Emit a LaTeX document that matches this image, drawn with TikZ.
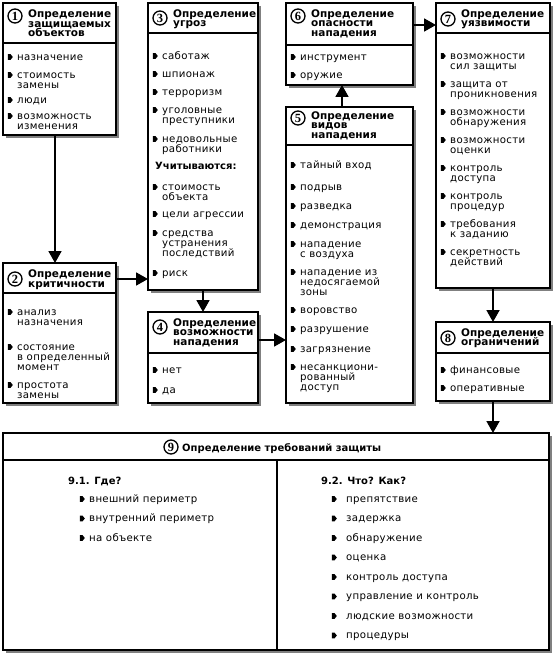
\documentclass[tikz,border=0pt]{standalone}
\usepackage{fontspec}
\setmainfont{DejaVu Sans}
\newfontfamily\bodyf[LetterSpace=3]{DejaVu Sans}
\newfontfamily\headf{DejaVu Sans}
\newfontfamily\numf{Liberation Serif}
\usetikzlibrary{arrows.meta,shadows}
\newcounter{itc}
\newcommand\bulmark[2]{\fill (#1,#2) +(-2.2,-2.8) -- +(0.6,-2.8) -- +(2.8,0) -- +(0.6,2.8) -- +(-2.2,2.8) -- cycle;}
\newcommand\itm[3]{\bulmark{#1}{#2}\stepcounter{itc}\node[txt] (it\arabic{itc}) at (#1+7,#2-5) {\rule{0pt}{8pt}#3};}
\newcommand\itmw[3]{\bulmark{#1}{#2}\stepcounter{itc}\node[txt] (it\arabic{itc}) at (#1+12,#2-5) {\rule{0pt}{8pt}#3};}
\tikzset{
  box/.style={draw, line width=1.6pt, fill=white, anchor=north west, inner sep=0pt, outer sep=0pt,
    drop shadow={shadow xshift=2.6pt, shadow yshift=-2.6pt, fill=black!50, opacity=1}},
  sep/.style={line width=1.3pt},
  arr/.style={line width=1.8pt, -{Triangle[length=12pt,width=13pt]}},
  txt/.style={anchor=north west, inner sep=0pt, align=left, font={\bodyf\fontsize{10.2}{10}\selectfont\lineskiplimit=-5pt}},
  hd/.style={anchor=north west, inner sep=0pt, align=left, font={\headf\bfseries\fontsize{10.5}{9.5}\selectfont\lineskiplimit=-5pt}},
  hdnine/.style={anchor=base west, inner sep=0pt, font={\headf\bfseries\fontsize{10}{10}\selectfont}},
  sub/.style={anchor=north west, inner sep=0pt, font={\headf\bfseries\fontsize{10}{10}\selectfont}},
  num/.style={circle, draw, line width=1.3pt, inner sep=0pt, minimum size=14pt, font={\numf\bfseries\fontsize{12.5}{12.5}\selectfont}},
}
\begin{document}
\begin{tikzpicture}[x=1pt,y=-1pt]
\useasboundingbox (0,0) rectangle (555,655);
% boxes
\node[box, minimum width=113pt, minimum height=132pt] (b1) at (3,3) {};
\node[box, minimum width=113pt, minimum height=140pt] (b2) at (3,263) {};
\node[box, minimum width=110pt, minimum height=287pt] (b3) at (148,3) {};
\node[box, minimum width=110pt, minimum height=91pt] (b4) at (148,312) {};
\node[box, minimum width=127pt, minimum height=296pt] (b5) at (286,107) {};
\node[box, minimum width=127pt, minimum height=82pt] (b6) at (286,3) {};
\node[box, minimum width=114pt, minimum height=285pt] (b7) at (436,3) {};
\node[box, minimum width=114pt, minimum height=79pt] (b8) at (436,322) {};
\node[box, minimum width=546pt, minimum height=217pt] (b9) at (3,433) {};
% header separators
\draw[sep] ([yshift=-40pt]b1.north west) -- ([yshift=-40pt]b1.north east);
\draw[sep] ([yshift=-30pt]b2.north west) -- ([yshift=-30pt]b2.north east);
\draw[sep] ([yshift=-30pt]b3.north west) -- ([yshift=-30pt]b3.north east);
\draw[sep] ([yshift=-41pt]b4.north west) -- ([yshift=-41pt]b4.north east);
\draw[sep] ([yshift=-38pt]b5.north west) -- ([yshift=-38pt]b5.north east);
\draw[sep] ([yshift=-42pt]b6.north west) -- ([yshift=-42pt]b6.north east);
\draw[sep] ([yshift=-30pt]b7.north west) -- ([yshift=-30pt]b7.north east);
\draw[sep] ([yshift=-31pt]b8.north west) -- ([yshift=-31pt]b8.north east);
\draw[sep] ([yshift=-27pt]b9.north west) -- ([yshift=-27pt]b9.north east);
\draw[sep] ([xshift=274pt,yshift=-27pt]b9.north west) -- ([xshift=274pt]b9.south west);
% connectors
\coordinate (a12) at ([xshift=-4.5pt]b1.south);
\draw[arr] (a12) -- (a12 |- b2.north);
\coordinate (a23) at ([yshift=-16pt]b2.north east);
\draw[arr] (a23) -- (a23 -| b3.west);
\draw[arr] (b3.south) -- (b4.north);
\coordinate (a45) at ([yshift=-28pt]b4.north east);
\draw[arr] (a45) -- (a45 -| b5.west);
\coordinate (a56) at ([xshift=-7.5pt]b5.north);
\draw[arr] (a56) -- (a56 |- b6.south);
\coordinate (a67) at ([yshift=-22pt]b6.north east);
\draw[arr] (a67) -- (a67 -| b7.west);
\draw[arr] (b7.south) -- (b8.north);
\draw[arr] (b8.south) -- (b8.south |- b9.north);
% box 1
\node[num] (n1) at (15,16) {1};
\node[hd] (h1) at (28,9.5) {\rule{0pt}{8pt}Определение\\защищаемых\\объектов};
\itm{10}{57}{назначение}
\itm{10}{75}{стоимость\\замены}
\itm{10}{100}{люди}
\itm{10}{116}{возможность\\изменения}
% box 2
\node[num] (n2) at (15,279) {2};
\node[hd] (h2) at (28,269.5) {\rule{0pt}{8pt}Определение\\критичности};
\itm{10}{312}{анализ\\назначения}
\itm{10}{347}{состояние\\в определенный\\момент}
\itm{10}{385}{простота\\замены}
% box 3
\node[num] (n3) at (160,18) {3};
\node[hd] (h3) at (173,9) {\rule{0pt}{8pt}Определение\\угроз};
\itm{155}{56}{саботаж}
\itm{155}{74}{шпионаж}
\itm{155}{92}{терроризм}
\itm{155}{110}{уголовные\\преступники}
\itm{155}{139}{недовольные\\работники}
\node[sub] (u3) at (155,161) {\rule{0pt}{8pt}Учитываются:};
\itm{155}{187}{стоимость\\объекта}
\itm{155}{214}{цели агрессии}
\itm{155}{233}{средства\\устранения\\последствий}
\itm{155}{273}{риск}
% box 4
\node[num] (n4) at (160,327) {4};
\node[hd] (h4) at (173,318) {\rule{0pt}{8pt}Определение\\возможности\\нападения};
\itm{155}{370}{нет}
\itm{155}{390}{да}
% box 5
\node[num] (n5) at (298,118) {5};
\node[hd] (h5) at (311,111) {\rule{0pt}{8pt}Определение\\видов\\нападения};
\itm{293}{165}{тайный вход}
\itm{293}{187}{подрыв}
\itm{293}{206}{разведка}
\itm{293}{225}{демонстрация}
\itm{293}{244}{нападение\\с воздуха}
\itm{293}{272}{нападение из\\недосягаемой\\зоны}
\itm{293}{310}{воровство}
\itm{293}{329}{разрушение}
\itm{293}{349}{загрязнение}
\itm{293}{367}{несанкциони-\\рованный\\доступ}
% box 6
\node[num] (n6) at (298,16) {6};
\node[hd] (h6) at (311,9) {\rule{0pt}{8pt}Определение\\опасности\\нападения};
\itm{293}{57}{инструмент}
\itm{293}{75}{оружие}
% box 7
\node[num] (n7) at (448,19) {7};
\node[hd] (h7) at (461,9) {\rule{0pt}{8pt}Определение\\уязвимости};
\itm{443}{56}{возможности\\сил защиты}
\itm{443}{84}{защита от\\проникновения}
\itm{443}{112}{возможности\\обнаружения}
\itm{443}{140}{возможности\\оценки}
\itm{443}{168}{контроль\\доступа}
\itm{443}{196}{контроль\\процедур}
\itm{443}{224}{требования\\к заданию}
\itm{443}{252}{секретность\\действий}
% box 8
\node[num] (n8) at (448,338) {8};
\node[hd] (h8) at (461,328) {\rule{0pt}{8pt}Определение\\ограничений};
\itm{443}{370}{финансовые}
\itm{443}{388}{оперативные}
% box 9
\node[num] (n9) at (171,447) {9};
\node[hdnine] (h9) at (182,451) {Определение требований защиты};
\node[sub] (s91) at (68,476) {\rule{0pt}{8pt}9.1. Где?};
\node[sub] (s92) at (321,476) {\rule{0pt}{8pt}9.2. Что? Как?};
\itm{82}{499}{внешний периметр}
\itm{82}{518.5}{внутренний периметр}
\itm{82}{538}{на объекте}
\itmw{334}{499}{препятствие}
\itmw{334}{518.5}{задержка}
\itmw{334}{538}{обнаружение}
\itmw{334}{557.5}{оценка}
\itmw{334}{577}{контроль доступа}
\itmw{334}{596.5}{управление и контроль}
\itmw{334}{616}{людские возможности}
\itmw{334}{635.5}{процедуры}
\end{tikzpicture}
\end{document}
